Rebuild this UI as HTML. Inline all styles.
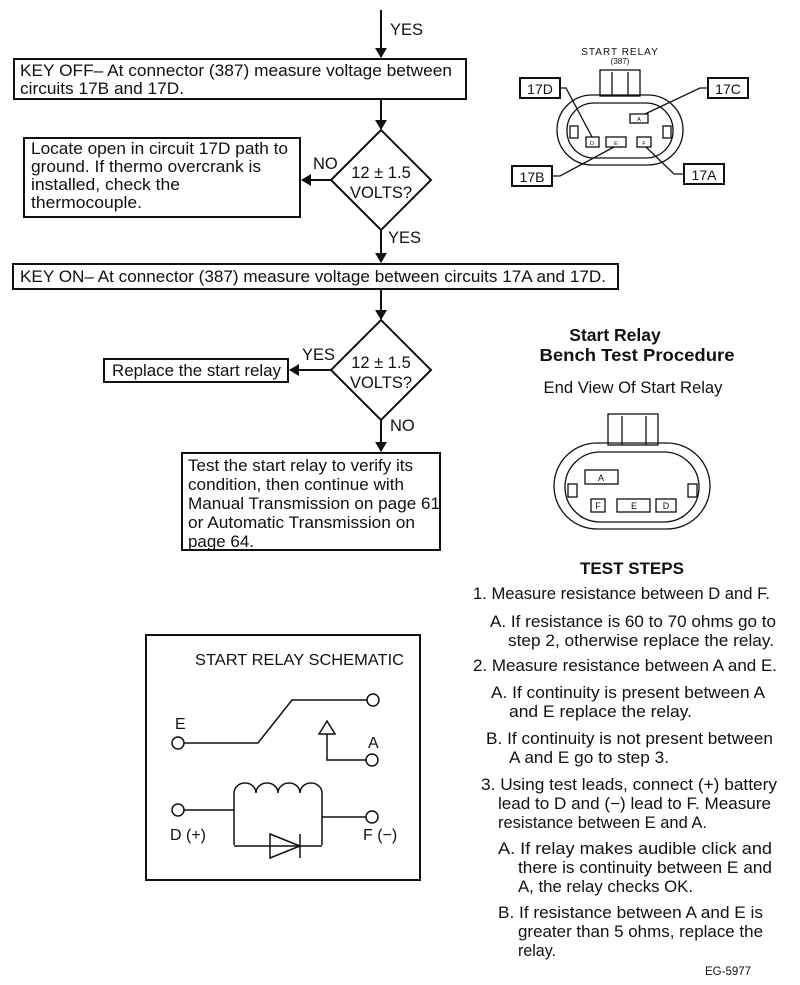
<!DOCTYPE html>
<html><head><meta charset="utf-8"><style>
html,body{margin:0;padding:0;background:#fff}
svg{display:block}
text{font-family:"Liberation Sans",sans-serif;fill:#111}
</style></head><body>
<svg width="800" height="985" viewBox="0 0 800 985" xmlns="http://www.w3.org/2000/svg">
<defs><marker id="ah" markerWidth="10" markerHeight="12" refX="9" refY="6" orient="auto" markerUnits="userSpaceOnUse"><path d="M0,0 L10,6 L0,12 z" fill="#111"/></marker></defs>
<g stroke="#111" stroke-width="2" fill="none">
<line x1="381" y1="10" x2="381" y2="57" marker-end="url(#ah)"/>
<rect x="14" y="59" width="452" height="40"/>
<line x1="381" y1="99" x2="381" y2="129" marker-end="url(#ah)"/>
<polygon points="381,130 431,180 381,230 331,180"/>
<line x1="331" y1="180" x2="302" y2="180" marker-end="url(#ah)"/>
<rect x="24" y="138" width="276" height="79"/>
<line x1="381" y1="230" x2="381" y2="262" marker-end="url(#ah)"/>
<rect x="13" y="264" width="605" height="25"/>
<line x1="381" y1="289" x2="381" y2="319" marker-end="url(#ah)"/>
<polygon points="381,320 431,370 381,420 331,370"/>
<line x1="331" y1="370" x2="290" y2="370" marker-end="url(#ah)"/>
<rect x="104" y="359" width="184" height="23"/>
<line x1="381" y1="420" x2="381" y2="451" marker-end="url(#ah)"/>
<rect x="182" y="453" width="258" height="97"/>
</g>
<g font-size="16.5" lengthAdjust="spacingAndGlyphs">
<text x="390" y="35">YES</text>
<text x="20" y="76" textLength="432" lengthAdjust="spacingAndGlyphs">KEY OFF– At connector (387) measure voltage between</text>
<text x="20" y="94" textLength="164" lengthAdjust="spacingAndGlyphs">circuits 17B and 17D.</text>
<text x="31" y="154" textLength="257" lengthAdjust="spacingAndGlyphs">Locate open in circuit 17D path to</text>
<text x="31" y="172" textLength="230" lengthAdjust="spacingAndGlyphs">ground. If thermo overcrank is</text>
<text x="31" y="190" textLength="149" lengthAdjust="spacingAndGlyphs">installed, check the</text>
<text x="31" y="208" textLength="111" lengthAdjust="spacingAndGlyphs">thermocouple.</text>
<text x="313" y="169">NO</text>
<text x="381" y="178" text-anchor="middle">12 ± 1.5</text>
<text x="381" y="198" text-anchor="middle">VOLTS?</text>
<text x="388" y="243">YES</text>
<text x="20" y="282" textLength="586" lengthAdjust="spacingAndGlyphs">KEY ON– At connector (387) measure voltage between circuits 17A and 17D.</text>
<text x="381" y="368" text-anchor="middle">12 ± 1.5</text>
<text x="381" y="388" text-anchor="middle">VOLTS?</text>
<text x="302" y="360">YES</text>
<text x="112" y="376" textLength="169" lengthAdjust="spacingAndGlyphs">Replace the start relay</text>
<text x="390" y="431">NO</text>
<text x="188" y="471" textLength="225" lengthAdjust="spacingAndGlyphs">Test the start relay to verify its</text>
<text x="188" y="490" textLength="216" lengthAdjust="spacingAndGlyphs">condition, then continue with</text>
<text x="188" y="509" textLength="252" lengthAdjust="spacingAndGlyphs">Manual Transmission on page 61</text>
<text x="188" y="528" textLength="227" lengthAdjust="spacingAndGlyphs">or Automatic Transmission on</text>
<text x="188" y="547" textLength="66" lengthAdjust="spacingAndGlyphs">page 64.</text>
</g>
<!-- top connector -->
<g stroke="#111" stroke-width="1.3" fill="none">
<rect x="600" y="70" width="40" height="26"/>
<line x1="612" y1="72" x2="612" y2="96"/><line x1="628" y1="72" x2="628" y2="96"/>
<rect x="557" y="95" width="126" height="70" rx="35"/>
<rect x="567" y="103" width="106" height="55" rx="27"/>
<rect x="570" y="126" width="8" height="12"/><rect x="663" y="126" width="8" height="12"/>
<rect x="630" y="114" width="18" height="9"/>
<rect x="586" y="137" width="13" height="10"/>
<rect x="606" y="137" width="20" height="10"/>
<rect x="637" y="137" width="14" height="10"/>
<rect x="520" y="78" width="40" height="20" stroke-width="2"/>
<rect x="708" y="78" width="40" height="20" stroke-width="2"/>
<rect x="512" y="166" width="40" height="20" stroke-width="2"/>
<rect x="684" y="164" width="40" height="20" stroke-width="2"/>
<polyline points="560,88 566,88 592,137"/>
<polyline points="708,88 700,88 645,114"/>
<polyline points="552,176 560,176 614,147"/>
<polyline points="684,174 674,174 646,147"/>
</g>
<g font-size="14">
<text x="540" y="94" text-anchor="middle">17D</text>
<text x="728" y="94" text-anchor="middle">17C</text>
<text x="532" y="182" text-anchor="middle">17B</text>
<text x="704" y="180" text-anchor="middle">17A</text>
</g>
<g font-size="5.5" text-anchor="middle"><text x="639" y="121">A</text><text x="592" y="145">D</text><text x="616" y="145">E</text><text x="644" y="145">F</text></g>
<text x="620" y="55" font-size="10" text-anchor="middle" letter-spacing="1">START RELAY</text>
<text x="620" y="64" font-size="8" text-anchor="middle">(387)</text>
<!-- bench -->
<text x="615" y="341" font-size="17.5" font-weight="bold" text-anchor="middle">Start Relay</text>
<text x="637" y="361" font-size="17.5" font-weight="bold" text-anchor="middle" textLength="195" lengthAdjust="spacingAndGlyphs">Bench Test Procedure</text>
<text x="633" y="393" font-size="16.5" text-anchor="middle" textLength="179" lengthAdjust="spacingAndGlyphs">End View Of Start Relay</text>
<g stroke="#111" stroke-width="1.3" fill="none">
<rect x="608" y="414" width="50" height="31"/>
<line x1="622" y1="416" x2="622" y2="445"/><line x1="646" y1="416" x2="646" y2="445"/>
<rect x="554" y="443" width="156" height="86" rx="43"/>
<rect x="565" y="452" width="134" height="70" rx="35"/>
<rect x="568" y="484" width="9" height="13"/><rect x="688" y="484" width="9" height="13"/>
<rect x="585" y="470" width="33" height="14"/>
<rect x="591" y="499" width="14" height="13"/>
<rect x="617" y="499" width="33" height="13"/>
<rect x="656" y="499" width="20" height="13"/>
</g>
<g font-size="9" text-anchor="middle"><text x="601" y="481">A</text><text x="598" y="509">F</text><text x="634" y="509">E</text><text x="666" y="509">D</text></g>
<text x="632" y="574" font-size="17" font-weight="bold" text-anchor="middle">TEST STEPS</text>
<g font-size="16.5">
<text x="473" y="599" textLength="297" lengthAdjust="spacingAndGlyphs">1. Measure resistance between D and F.</text>
<text x="490" y="627" textLength="286" lengthAdjust="spacingAndGlyphs">A. If resistance is 60 to 70 ohms go to</text>
<text x="508" y="646" textLength="266" lengthAdjust="spacingAndGlyphs">step 2, otherwise replace the relay.</text>
<text x="473" y="671" textLength="304" lengthAdjust="spacingAndGlyphs">2. Measure resistance between A and E.</text>
<text x="491" y="698" textLength="274" lengthAdjust="spacingAndGlyphs">A. If continuity is present between A</text>
<text x="509" y="717" textLength="183" lengthAdjust="spacingAndGlyphs">and E  replace the relay.</text>
<text x="486" y="744" textLength="287" lengthAdjust="spacingAndGlyphs">B. If continuity is not present between</text>
<text x="509" y="763" textLength="160" lengthAdjust="spacingAndGlyphs">A and E go to step 3.</text>
<text x="481" y="790" textLength="296" lengthAdjust="spacingAndGlyphs">3. Using test leads, connect (+) battery</text>
<text x="498" y="809" textLength="273" lengthAdjust="spacingAndGlyphs">lead to D and (−) lead to F. Measure</text>
<text x="498" y="828" textLength="209" lengthAdjust="spacingAndGlyphs">resistance between E and A.</text>
<text x="498" y="854" textLength="274" lengthAdjust="spacingAndGlyphs">A. If relay makes audible click and</text>
<text x="518" y="873" textLength="254" lengthAdjust="spacingAndGlyphs">there is continuity between E and</text>
<text x="518" y="892" textLength="175" lengthAdjust="spacingAndGlyphs">A, the relay checks OK.</text>
<text x="498" y="918" textLength="265" lengthAdjust="spacingAndGlyphs">B. If resistance between A and E is</text>
<text x="518" y="937" textLength="245" lengthAdjust="spacingAndGlyphs">greater than 5 ohms, replace the</text>
<text x="518" y="956" textLength="38" lengthAdjust="spacingAndGlyphs">relay.</text>
</g>
<text x="705" y="975" font-size="11.5">EG-5977</text>
<!-- schematic -->
<g stroke="#111" stroke-width="1.5" fill="none">
<rect x="146" y="635" width="274" height="245" stroke-width="2"/>
<circle cx="178" cy="743" r="6"/><polyline points="184,743 258,743 292,700 367,700"/><circle cx="373" cy="700" r="6"/>
<polygon points="327,721 335,734 319,734"/><polyline points="327,734 327,760 366,760"/><circle cx="372" cy="760" r="6"/>
<circle cx="178" cy="810" r="6"/><line x1="184" y1="810" x2="234" y2="810"/>
<polyline points="234,845 234,793"/>
<path d="M234,793 a11,10 0 0 1 22,0 a11,10 0 0 1 22,0 a11,10 0 0 1 22,0 a11,10 0 0 1 22,0"/>
<polyline points="322,793 322,845"/>
<line x1="322" y1="817" x2="366" y2="817"/><circle cx="372" cy="817" r="6"/>
<line x1="234" y1="846" x2="322" y2="846"/>
<polygon points="270,834 300,846 270,858"/><line x1="300" y1="834" x2="300" y2="858"/>
</g>
<g font-size="16">
<text x="195" y="665" textLength="209" lengthAdjust="spacingAndGlyphs">START RELAY SCHEMATIC</text>
<text x="175" y="729">E</text>
<text x="368" y="748">A</text>
<text x="170" y="840">D (+)</text>
<text x="363" y="840">F (−)</text>
</g>
</svg>
</body></html>
